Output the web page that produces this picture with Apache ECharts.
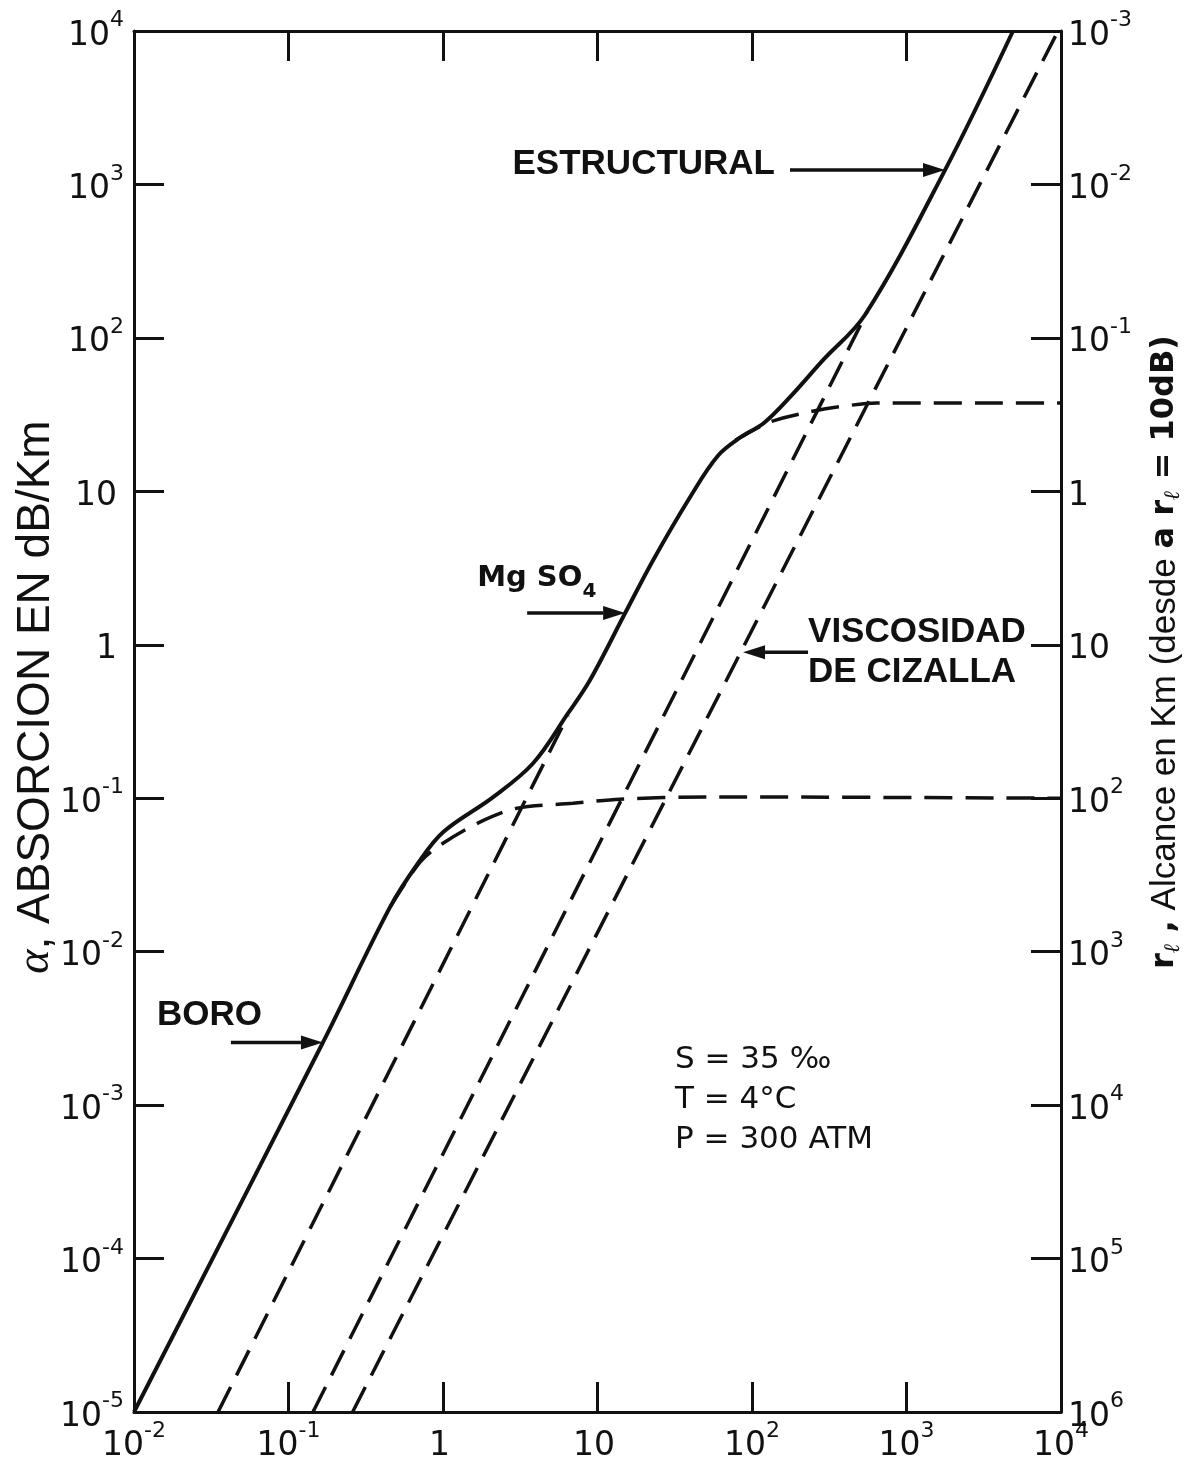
<!DOCTYPE html>
<html>
<head>
<meta charset="utf-8">
<script src="https://cdn.jsdelivr.net/npm/echarts@6/dist/echarts.min.js"></script>
<style>
  html, body { margin: 0; padding: 0; background: #ffffff; }
  #chart { width: 1191px; height: 1468px; }
</style>
</head>
<body>
<div id="chart"></div>
<script>
// Sound absorption in sea water: frequency (kHz) vs absorption (dB/km)
const totalCurve = [
  [0.01, 1.0e-5], [0.167, 2.56e-3], [0.454, 0.0195], [0.689, 0.0377], [1.0, 0.060],
  [2.11, 0.1016], [3.83, 0.169], [6.45, 0.358], [8.93, 0.587], [15.1, 1.61],
  [22.9, 3.56], [39.7, 9.16], [60, 17.0], [85, 22.6], [120, 28.0], [176, 41.1],
  [288, 71.6], [538, 141], [1775, 1240], [4890, 1.0e4]
];
const boronCurve = [
  [0.454, 0.0195], [0.71, 0.0383], [1.0, 0.0509], [1.73, 0.0698], [3.01, 0.0861],
  [6.93, 0.0927], [14.0, 0.0985], [51, 0.102], [1.0e4, 0.100]
];
const mgso4Low = [[0.035, 1.0e-5], [6.45, 0.348]];
const mgso4High = [[78, 21.5], [131, 28.3], [230, 32.8], [355, 35.4], [644, 37.6], [1.0e4, 37.6]];
const viscStructural = [[0.144, 1.0e-5], [555, 147]];
const viscShear = [[0.26, 1.0e-5], [9570, 1.0e4]];

// Tick labels, one per decade
const xTickLabels = ['10^-2', '10^-1', '1', '10', '10^2', '10^3', '10^4'];
const leftTickLabels = ['10^-5', '10^-4', '10^-3', '10^-2', '10^-1', '1', '10', '10^2', '10^3', '10^4'];
const rightTickLabels = ['10^-3', '10^-2', '10^-1', '1', '10', '10^2', '10^3', '10^4', '10^5', '10^6'];

// Annotations: label text and the point on the curve the arrow points at
const noteEstructural = { text: 'ESTRUCTURAL', tip: [1775, 1240] };
const noteMgSO4 = { text: 'Mg SO', sub: '4', tip: [15.1, 1.61] };
const noteViscosidad = { lines: ['VISCOSIDAD', 'DE CIZALLA'], tip: [87.5, 0.895] };
const noteBoro = { text: 'BORO', tip: [0.167, 2.56e-3] };
const conditions = ['S = 35 \u2030', 'T = 4\u00b0C', 'P = 300 ATM'];

const INK = '#111111';
const chart = echarts.init(document.getElementById('chart'));

function richLabel(s) {
  const parts = s.split('^');
  return '{b|' + parts[0] + '}{s|' + (parts.length > 1 ? parts[1] : ' ') + '}';
}
function labelFor(list, firstExp) {
  return function (v) {
    const e = Math.round(Math.log10(v));
    const lbl = list[e - firstExp];
    return lbl === undefined ? '' : richLabel(lbl);
  };
}
const tickRich = {
  b: { fontFamily: 'DejaVu Sans', fontSize: 33, color: INK, verticalAlign: 'bottom' },
  s: { fontFamily: 'DejaVu Sans', fontSize: 22, color: INK, lineHeight: 43, verticalAlign: 'top' }
};
const frameLine = { show: true, lineStyle: { color: INK, width: 3 } };
const insideTick = { show: true, inside: true, length: 30, lineStyle: { color: INK, width: 3 } };

const solidStyle = { color: INK, width: 4 };
const dashStyle = { color: INK, width: 3.5, type: [28, 13] };

chart.setOption({
  animation: false,
  backgroundColor: '#ffffff',
  grid: { left: 134, right: 130, top: 31, bottom: 56, containLabel: false },
  xAxis: [
    {
      type: 'log', logBase: 10, min: 0.01, max: 1e4, splitNumber: 10, position: 'bottom',
      axisLine: frameLine, axisTick: insideTick, splitLine: { show: false },
      axisLabel: { margin: 8, formatter: labelFor(xTickLabels, -2), rich: tickRich }
    },
    {
      type: 'log', logBase: 10, min: 0.01, max: 1e4, splitNumber: 10, position: 'top',
      axisLine: frameLine, axisTick: insideTick, splitLine: { show: false },
      axisLabel: { show: false }
    }
  ],
  yAxis: [
    {
      type: 'log', logBase: 10, min: 1e-5, max: 1e4, splitNumber: 10, position: 'left',
      axisLine: frameLine, axisTick: insideTick, splitLine: { show: false },
      axisLabel: { margin: 10, formatter: labelFor(leftTickLabels, -5), rich: tickRich }
    },
    {
      type: 'log', logBase: 10, min: 1e-3, max: 1e6, inverse: true, splitNumber: 10, position: 'right',
      axisLine: frameLine, axisTick: insideTick, splitLine: { show: false },
      axisLabel: { margin: 7, formatter: labelFor(rightTickLabels, -3), rich: tickRich }
    }
  ],
  series: [
    { name: 'Total', type: 'line', data: totalCurve, smooth: 0.35, showSymbol: false, lineStyle: solidStyle, z: 5 },
    { name: 'Boro', type: 'line', data: boronCurve, smooth: 0.3, showSymbol: false, lineStyle: dashStyle },
    { name: 'MgSO4 baja', type: 'line', data: mgso4Low, showSymbol: false, lineStyle: dashStyle },
    { name: 'MgSO4 alta', type: 'line', data: mgso4High, smooth: 0.3, showSymbol: false, lineStyle: dashStyle },
    { name: 'Estructural', type: 'line', data: viscStructural, showSymbol: false, lineStyle: dashStyle },
    { name: 'Cizalla', type: 'line', data: viscShear, showSymbol: false, lineStyle: dashStyle }
  ]
});

// Arrows and text placed relative to the curve points they refer to
function toPx(p) { return chart.convertToPixel({ xAxisIndex: 0, yAxisIndex: 0 }, p); }
function arrow(tip, tailDx) {
  const dir = tailDx < 0 ? 1 : -1; // +1 when pointing right
  const hx = tip[0] - dir * 22;
  return [
    { type: 'line', shape: { x1: tip[0] + tailDx, y1: tip[1], x2: hx, y2: tip[1] }, style: { stroke: INK, lineWidth: 3.5 }, z: 20 },
    { type: 'polygon', shape: { points: [[tip[0], tip[1]], [hx, tip[1] - 7], [hx, tip[1] + 7]] }, style: { fill: INK }, z: 20 }
  ];
}
const boldLabel = { fontFamily: 'Liberation Sans', fontSize: 35, fontWeight: 'bold', fill: INK };

const g = [];
const tE = toPx(noteEstructural.tip);
g.push(...arrow(tE, -155));
g.push({ type: 'text', x: tE[0] - 170, y: tE[1] - 6, style: Object.assign({ text: noteEstructural.text, align: 'right', verticalAlign: 'middle' }, boldLabel), z: 20 });

const tM = toPx(noteMgSO4.tip);
g.push(...arrow(tM, -98));
g.push({
  type: 'text', x: tM[0] - 148, y: tM[1] - 30, z: 20,
  style: {
    text: '{m|' + noteMgSO4.text + '}{n|' + noteMgSO4.sub + '}', align: 'left', verticalAlign: 'middle',
    rich: {
      m: { fontFamily: 'DejaVu Sans', fontWeight: 'bold', fontSize: 29, fill: INK, verticalAlign: 'top' },
      n: { fontFamily: 'DejaVu Sans', fontWeight: 'bold', fontSize: 20, fill: INK, lineHeight: 38, verticalAlign: 'bottom' }
    }
  }
});

const tV = toPx(noteViscosidad.tip);
g.push(...arrow(tV, 65));
g.push({ type: 'text', x: tV[0] + 65, y: tV[1] - 20, style: Object.assign({ text: noteViscosidad.lines[0], align: 'left', verticalAlign: 'middle' }, boldLabel), z: 20 });
g.push({ type: 'text', x: tV[0] + 65, y: tV[1] + 20, style: Object.assign({ text: noteViscosidad.lines[1], align: 'left', verticalAlign: 'middle' }, boldLabel), z: 20 });

const tB = toPx(noteBoro.tip);
g.push(...arrow(tB, -92));
g.push({ type: 'text', x: tB[0] - 166, y: tB[1] - 27, style: Object.assign({ text: noteBoro.text, align: 'left', verticalAlign: 'middle' }, boldLabel), z: 20 });

conditions.forEach(function (line, i) {
  g.push({ type: 'text', x: 675, y: 1060 + i * 40, style: { text: line, align: 'left', verticalAlign: 'middle', fontFamily: 'DejaVu Sans', fontSize: 31, fill: INK }, z: 20 });
});

// Axis titles
g.push({
  type: 'text', x: 36, y: 697, rotation: Math.PI / 2, z: 20,
  style: {
    text: '{a|\u03b1}{n|, ABSORCION EN dB/Km}', align: 'center', verticalAlign: 'middle',
    rich: {
      a: { fontFamily: 'Liberation Serif', fontStyle: 'italic', fontSize: 46, fill: INK },
      n: { fontFamily: 'Liberation Sans', fontSize: 46, fill: INK }
    }
  }
});
g.push({
  type: 'text', x: 1165, y: 652, rotation: Math.PI / 2, z: 20,
  style: {
    text: '{r|r}{l|\u2113}{r| ,}   {n|Alcance en Km (desde }{r|a r}{l|\u2113}{r| = 10dB)}', align: 'center', verticalAlign: 'middle',
    rich: {
      r: { fontFamily: 'DejaVu Sans', fontWeight: 'bold', fontSize: 32, fill: INK, lineHeight: 38, verticalAlign: 'middle' },
      l: { fontFamily: 'DejaVu Serif', fontWeight: 'bold', fontStyle: 'italic', fontSize: 22, fill: INK, lineHeight: 38, verticalAlign: 'bottom' },
      n: { fontFamily: 'Liberation Sans', fontSize: 35, fill: INK, lineHeight: 38, verticalAlign: 'middle' }
    }
  }
});

chart.setOption({ graphic: g });
</script>
</body>
</html>
